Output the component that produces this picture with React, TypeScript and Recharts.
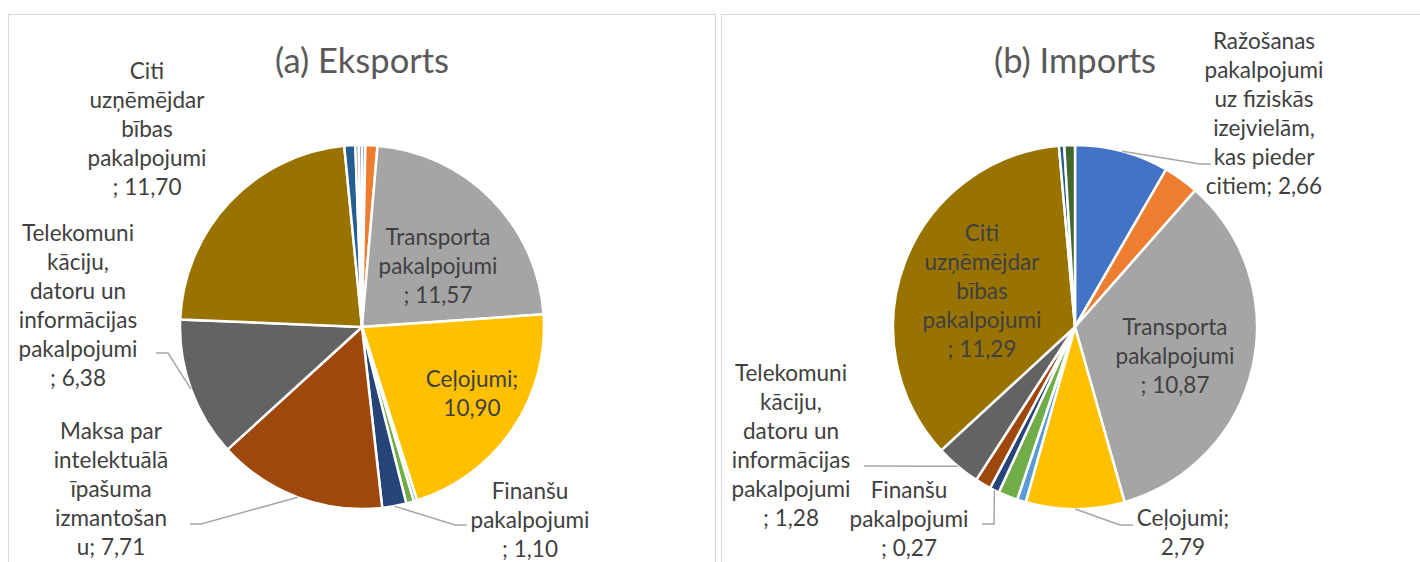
import React from "react";
import { PieChart, Pie, Cell } from "recharts";

// Pakalpojumu grupas (EBOPS), secība kā Excel diagrammā
const CATEGORIES = [
  "Ražošanas pakalpojumi uz fiziskās izejvielām, kas pieder citiem",
  "Apkopes un remonta pakalpojumi",
  "Transporta pakalpojumi",
  "Ceļojumi",
  "Būvniecība",
  "Apdrošināšanas un pensiju pakalpojumi",
  "Finanšu pakalpojumi",
  "Maksa par intelektuālā īpašuma izmantošanu",
  "Telekomunikāciju, datoru un informācijas pakalpojumi",
  "Citi uzņēmējdarbības pakalpojumi",
  "Individuālie, kultūras un atpūtas pakalpojumi",
  "Valdības preces un pakalpojumi",
  "Citi pakalpojumi",
];

const COLORS = [
  "#4472C4", "#ED7D31", "#A5A5A5", "#FFC000", "#5B9BD5", "#70AD47",
  "#264478", "#9E480E", "#636363", "#997300", "#255E91", "#43682B", "#698ED0",
];

const EXPORT_VALUES = [0.15, 0.55, 11.57, 10.9, 0.15, 0.35, 1.1, 7.71, 6.38, 11.7, 0.5, 0.15, 0.15];
const IMPORT_VALUES = [2.66, 1.0, 10.87, 2.79, 0.25, 0.55, 0.27, 0.45, 1.28, 11.29, 0.15, 0.3, 0];

const exportData = CATEGORIES.map((name, i) => ({ name, value: EXPORT_VALUES[i] }));
const importData = CATEGORIES.map((name, i) => ({ name, value: IMPORT_VALUES[i] }));

// label layout: offsets from pie centre, "{v}" gets the value
type LabelSpec = { lines: string[]; dx: number; dy: number; leader?: [number, number][] };

const EXPORT_LABELS: Record<number, LabelSpec> = {
  2: { lines: ["Transporta", "pakalpojumi", "; {v}"], dx: 76, dy: -62 },
  3: { lines: ["Ceļojumi;", "{v}"], dx: 110, dy: 66 },
  6: { lines: ["Finanšu", "pakalpojumi", "; {v}"], dx: 168, dy: 192, leader: [[93, 198], [105, 198]] },
  7: {
    lines: ["Maksa par", "intelektuālā", "īpašuma", "izmantošan", "u; {v}"],
    dx: -251, dy: 161, leader: [[-161, 197], [-172, 197]],
  },
  8: {
    lines: ["Telekomuni", "kāciju,", "datoru un", "informācijas", "pakalpojumi", "; {v}"],
    dx: -284, dy: -22, leader: [[-194, 26], [-206, 26]],
  },
  9: { lines: ["Citi", "uzņēmējdar", "bības", "pakalpojumi", "; {v}"], dx: -215, dy: -199 },
};

const IMPORT_LABELS: Record<number, LabelSpec> = {
  0: {
    lines: ["Ražošanas", "pakalpojumi", "uz fiziskās", "izejvielām,", "kas pieder", "citiem; {v}"],
    dx: 189, dy: -214, leader: [[125, -163], [136, -163]],
  },
  2: { lines: ["Transporta", "pakalpojumi", "; {v}"], dx: 100, dy: 28 },
  3: { lines: ["Ceļojumi;", "{v}"], dx: 108, dy: 205, leader: [[45, 198], [58, 198]] },
  6: { lines: ["Finanšu", "pakalpojumi", "; {v}"], dx: -166, dy: 191, leader: [[-81, 197], [-93, 197]] },
  8: {
    lines: ["Telekomuni", "kāciju,", "datoru un", "informācijas", "pakalpojumi", "; {v}"],
    dx: -284, dy: 118, leader: [[-211, 139]],
  },
  9: { lines: ["Citi", "uzņēmējdar", "bības", "pakalpojumi", "; {v}"], dx: -93, dy: -37 },
};

const FONT = "Lato, 'Open Sans', sans-serif";
const LABEL_COLOR = "#404040";
const LINE_H = 29;
const RAD = Math.PI / 180;

const fmt = (v: number) => v.toFixed(2).replace(".", ",");

function makeLabel(specs: Record<number, LabelSpec>) {
  return (props: any) => {
    const { cx, cy, midAngle, outerRadius, index, value } = props;
    const spec = specs[index];
    if (!spec) return null;
    const n = spec.lines.length;
    const tx = cx + spec.dx;
    const ty = cy + spec.dy;
    let leader = null;
    if (spec.leader) {
      const sx = cx + outerRadius * Math.cos(-midAngle * RAD);
      const sy = cy + outerRadius * Math.sin(-midAngle * RAD);
      const pts = [[sx, sy], ...spec.leader.map(([x, y]) => [cx + x, cy + y])];
      leader = (
        <polyline
          points={pts.map((p) => p.join(",")).join(" ")}
          fill="none"
          stroke="#A6A6A6"
          strokeWidth={1.5}
        />
      );
    }
    return (
      <g key={`lbl-${index}`}>
        {leader}
        <text
          x={tx}
          y={ty}
          textAnchor="middle"
          fill={LABEL_COLOR}
          fontFamily={FONT}
          fontSize={22.5}
        >
          {spec.lines.map((l, i) => (
            <tspan key={i} x={tx} y={ty + (i - (n - 1) / 2) * LINE_H} dominantBaseline="central">
              {l.replace("{v}", fmt(value))}
            </tspan>
          ))}
        </text>
      </g>
    );
  };
}

const panel = (left: number, width: number): React.CSSProperties => ({
  position: "absolute",
  left,
  top: 14,
  width,
  height: 600,
  border: "1px solid #D9D9D9",
  background: "#fff",
});

const title = (cx: number): React.CSSProperties => ({
  position: "absolute",
  left: cx - 200,
  width: 400,
  top: 40,
  height: 40,
  lineHeight: "40px",
  textAlign: "center",
  fontFamily: FONT,
  fontSize: 34.5,
  color: "#595959",
});

export default function App() {
  return (
    <div
      style={{
        position: "absolute",
        left: 0,
        top: 0,
        width: 1420,
        height: 562,
        overflow: "hidden",
        background: "#fff",
      }}
    >
      <div style={panel(8, 706)} />
      <div style={panel(721, 720)} />
      <div style={title(362)}>(a) Eksports</div>
      <div style={title(1075)}>(b) Imports</div>
      <div style={{ position: "absolute", left: 0, top: 0 }}>
        <PieChart width={1420} height={562} margin={{ top: 0, right: 0, bottom: 0, left: 0 }}>
          <Pie
            data={exportData}
            dataKey="value"
            nameKey="name"
            cx={362}
            cy={327}
            outerRadius={182}
            startAngle={90}
            endAngle={-270}
            stroke="#fff"
            strokeWidth={2.5}
            label={makeLabel(EXPORT_LABELS)}
            labelLine={false}
            isAnimationActive={false}
          >
            {exportData.map((_, i) => (
              <Cell key={i} fill={COLORS[i]} />
            ))}
          </Pie>
          <Pie
            data={importData}
            dataKey="value"
            nameKey="name"
            cx={1075}
            cy={327}
            outerRadius={182}
            startAngle={90}
            endAngle={-270}
            stroke="#fff"
            strokeWidth={2.5}
            label={makeLabel(IMPORT_LABELS)}
            labelLine={false}
            isAnimationActive={false}
          >
            {importData.map((_, i) => (
              <Cell key={i} fill={COLORS[i]} />
            ))}
          </Pie>
        </PieChart>
      </div>
    </div>
  );
}
